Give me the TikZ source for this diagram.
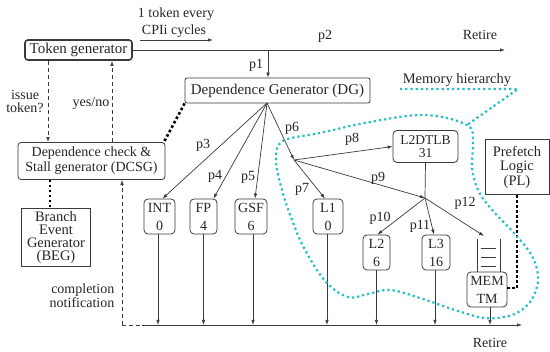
\documentclass[tikz,border=0pt]{standalone}
\usepackage{fontspec}
\setmainfont{Liberation Serif}
\newfontfamily\tms{Liberation Serif}
\usetikzlibrary{arrows.meta}
\definecolor{ln}{HTML}{3A3A3A}
\definecolor{cy}{HTML}{22BFC4}
\begin{document}
\begin{tikzpicture}[x=1pt,y=-1pt,
  every node/.style={font=\tms\fontsize{14}{15}\selectfont, text=black!85, inner sep=0pt},
  bx/.style={draw=ln, line width=0.8pt, rounded corners=4pt, align=center},
  sq/.style={draw=ln, line width=0.8pt, align=center},
  ar/.style={draw=ln, line width=0.7pt, -{Latex[length=5pt,width=3.5pt]}},
  pl/.style={draw=ln, line width=0.7pt},
  dsh/.style={draw=ln, line width=0.7pt, dash pattern=on 4pt off 3pt},
  tdot/.style={draw=black, line width=2.6pt, dash pattern=on 2.6pt off 2.4pt},
  mem/.style={draw=cy, line width=2.2pt, dash pattern=on 2.2pt off 3pt},
  lab/.style={font=\tms\fontsize{14}{15}\selectfont}]
\useasboundingbox (0,0) rectangle (550,352);

% nodes
\node[bx, line width=1.6pt, rounded corners=3pt, minimum width=107pt, minimum height=20pt, font=\tms\fontsize{15}{16}\selectfont] (tg) at (78.5,50) {Token generator};
\node[bx, rounded corners=2pt, minimum width=185pt, minimum height=25pt, font=\tms\fontsize{15}{16}\selectfont] (dg) at (277.5,90.5) {Dependence Generator (DG)};
\node[bx, rounded corners=3pt, minimum width=147pt, minimum height=37pt] (dcsg) at (91.5,161) {Dependence check \&\\Stall generator (DCSG)};
\node[sq, minimum width=69pt, minimum height=58pt, font=\tms\fontsize{14.5}{13}\selectfont] (beg) at (56,237.5) {Branch\\Event\\Generator\\(BEG)};
\node[bx, minimum width=31pt, minimum height=35pt] (int) at (159.5,216.5) {INT\\[3pt]0};
\node[bx, minimum width=27pt, minimum height=35pt] (fp) at (203.5,216.5) {FP\\[3pt]4};
\node[bx, minimum width=32pt, minimum height=35pt] (gsf) at (251,216.5) {GSF\\[3pt]6};
\node[bx, minimum width=30pt, minimum height=35pt] (l1) at (328,216.5) {L1\\[3pt]0};
\node[bx, minimum width=65pt, minimum height=32pt, font=\tms\fontsize{13.5}{13}\selectfont] (tlb) at (425.5,146.5) {L2DTLB\\31};
\node[bx, minimum width=27pt, minimum height=35pt] (l2) at (376.5,252.5) {L2\\[3pt]6};
\node[bx, minimum width=28pt, minimum height=35pt] (l3) at (436,252.5) {L3\\[3pt]16};
\node[bx, minimum width=40pt, minimum height=35pt] (mem) at (487,289.5) {MEM\\[3pt]TM};
\node[sq, minimum width=64pt, minimum height=55pt, font=\tms\fontsize{14.5}{14.5}\selectfont] (pf) at (517,167) {Prefetch\\Logic\\(PL)};

% coordinates
\coordinate (topend) at (505,50);
\coordinate (tka) at (140,40);
\coordinate (tkb) at (213,40);
\coordinate (p1s) at (268,50);
\coordinate (fan) at (267,103);
\coordinate (j1) at (294,160);
\coordinate (j2) at (425,198);
\coordinate (stk) at (484,236);
\coordinate (rl) at (142,325);
\coordinate (rr) at (522,325);
\coordinate (cn) at (122,325);
\coordinate (pfc) at (517,288);

% top line
\draw[ar] (tg.east) -- (topend);
\draw[ar] (tka) -- (tkb);
\draw[ar] (p1s) -- (p1s |- dg.north);

% token gen <-> dcsg
\draw[dsh, -{Latex[length=5pt,width=3.5pt]}] ([xshift=-30.5pt]tg.south) -- ([xshift=-30.5pt]tg.south |- dcsg.north);
\draw[dsh, -{Latex[length=5pt,width=3.5pt]}] ([xshift=20.5pt]dcsg.north) -- ([xshift=20.5pt]dcsg.north |- tg.south);
\draw[tdot] (dg.south west) -- ([xshift=-2pt,yshift=-1pt]dcsg.north east);
\draw[tdot] ([xshift=-41.5pt]dcsg.south) -- ([xshift=-41.5pt]dcsg.south |- beg.north);

% fan out
\draw[ar] (fan) -- ([xshift=3pt]int.north);
\draw[ar] (fan) -- ([xshift=10pt]fp.north);
\draw[ar] (fan) -- ([xshift=4pt]gsf.north);
\draw[ar] (fan) -- (j1);
\draw[ar] (j1) -- ([xshift=-3pt]l1.north);
\draw[ar] (j1) -- (tlb.west);
\draw[ar] (j1) -- (j2);
\draw[pl] (tlb.south) -- (j2);
\draw[ar] (j2) -- ([xshift=1pt]l2.north);
\draw[ar] (j2) -- ([xshift=-2pt]l3.north);
\draw[ar] (j2) -- (stk);

% MEM stack
\draw[pl] (477,239) -- (477,272) (500,239) -- (500,272);
\draw[pl] (481,248) -- (496,248) (481,257) -- (496,257) (481,266) -- (496,266);

% prefetch
\draw[draw=black, line width=1.6pt, dash pattern=on 3pt off 2pt] (pf.south) -- (pfc) -- (mem.east |- pfc);

% retire bottom
\draw[ar] (rl) -- (rr);
\draw[dsh] (cn) -- (rl);
\draw[dsh, -{Latex[length=5pt,width=3.5pt]}] (cn) -- (cn |- dcsg.south);
\foreach \n/\dx in {int/-1.5,fp/0,gsf/2,l1/-1,l2/0,l3/-1,mem/3}
  \draw[ar] ([xshift=\dx pt]\n.south) -- ([xshift=\dx pt]\n.south |- rl);

% memory hierarchy blob
\draw[mem] plot[smooth cycle, tension=0.6] coordinates {
 (467,125) (473,142) (472,168) (479,192) (494,212) (513,232) (532,256) (538,280) (530,302) (512,315) (485,318) (455,310) (420,298) (390,290) (368,294) (348,297) (326,282) (305,250) (292,220) (282,190) (276,160) (283,141) (320,133) (370,122) (425,115)};
\draw[mem] (400,89) -- (518,89) -- (467,125);
\node[lab, font=\tms\fontsize{14.5}{15}\selectfont] (mh) at (457,80) {Memory hierarchy};

% labels
\node[lab] (t1) at (176,14) {1 token every};
\node[lab] (t2) at (174,31) {CPIi cycles};
\node[lab] (lp2) at (325,36) {p2};
\node[lab] (ret1) at (480,35) {Retire};
\node[lab] (lp1) at (256,65) {p1};
\node[lab, align=center, font=\tms\fontsize{14}{13}\selectfont] (it) at (25,101) {issue\\token?};
\node[lab] (yn) at (91,103) {yes/no};
\node[lab, align=right, font=\tms\fontsize{14}{14}\selectfont] (cmp) at (82,296) {completion\\notification};
\node[lab] (ret2) at (490,343) {Retire};
\node[lab] (lp3) at (203,145) {p3};
\node[lab] (lp4) at (215,176) {p4};
\node[lab] (lp5) at (248,177) {p5};
\node[lab] (lp6) at (292,128) {p6};
\node[lab] (lp7) at (302,189) {p7};
\node[lab] (lp8) at (352,139) {p8};
\node[lab] (lp9) at (378,178) {p9};
\node[lab] (lp10) at (380,218) {p10};
\node[lab] (lp11) at (420,226) {p11};
\node[lab] (lp12) at (465,203) {p12};
\end{tikzpicture}
\end{document}
